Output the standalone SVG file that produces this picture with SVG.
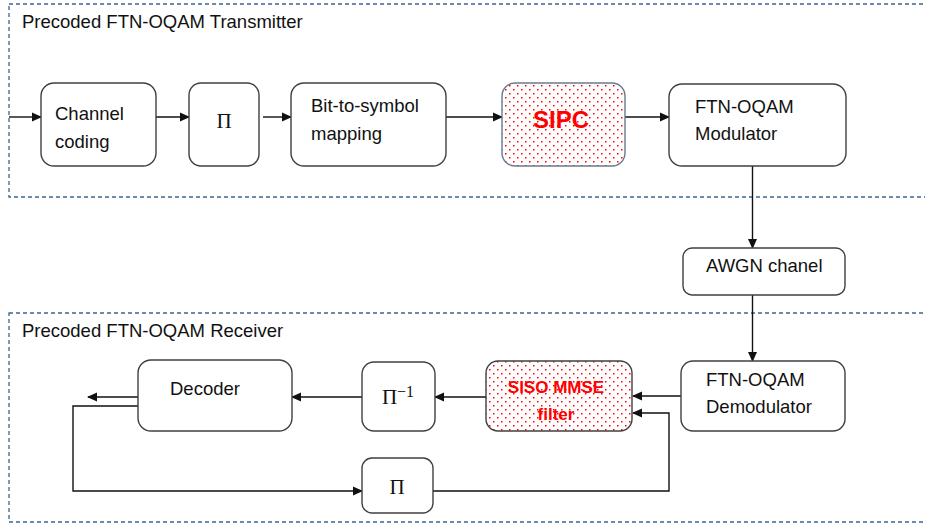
<svg xmlns="http://www.w3.org/2000/svg" width="925" height="525" viewBox="0 0 925 525">
<style>
.frame{fill:none;stroke:#3a6494;stroke-width:1.3;stroke-dasharray:4 3}
.box{fill:#fff;stroke:#404040;stroke-width:1.4}
.hot{fill:url(#dots);stroke:#6b7a8f;stroke-width:1.4}
.hot2{fill:url(#dots);stroke:#404040;stroke-width:1.4}
.lbl{font-family:"Liberation Sans",Arial,sans-serif;font-size:18.5px;fill:#111}
.ttl{font-family:"Liberation Sans",Arial,sans-serif;font-size:18.5px;fill:#111}
.red{font-family:"Liberation Sans",Arial,sans-serif;font-weight:bold;fill:#ff0000}
.pi{font-family:"Liberation Serif","Times New Roman",serif;font-size:21px;fill:#111}
.wire{fill:none;stroke:#111;stroke-width:1.4}
</style>
<defs>
<pattern id="dots" width="8" height="8" patternUnits="userSpaceOnUse">
<rect width="8" height="8" fill="#fff"/>
<rect x="1" y="1" width="1.5" height="1.5" fill="#ff0000"/>
<rect x="5" y="5" width="1.5" height="1.5" fill="#ff0000"/>
</pattern>
<marker id="ah" markerWidth="10" markerHeight="10" refX="9" refY="5" orient="auto" markerUnits="userSpaceOnUse">
<path d="M0,0.5 L10,5 L0,9.5 Z" fill="#111"/>
</marker>
</defs>
<g id="transmitter-frame">
<rect class="frame" x="9" y="4" width="930" height="193"/>
<text class="ttl" x="22" y="28">Precoded FTN-OQAM Transmitter</text>
</g>
<g id="receiver-frame">
<rect class="frame" x="9" y="313" width="930" height="209"/>
<text class="ttl" x="22" y="337">Precoded FTN-OQAM Receiver</text>
</g>
<g id="connectors">
<path class="wire" d="M9,117 H41" marker-end="url(#ah)"/>
<path class="wire" d="M156,117 H189" marker-end="url(#ah)"/>
<path class="wire" d="M263,117 H291" marker-end="url(#ah)"/>
<path class="wire" d="M446,117 H502" marker-end="url(#ah)"/>
<path class="wire" d="M625,117 H669" marker-end="url(#ah)"/>
<path class="wire" d="M752.5,166 V248" marker-end="url(#ah)"/>
<path class="wire" d="M752.5,295 V361" marker-end="url(#ah)"/>
<path class="wire" d="M681,396 H633" marker-end="url(#ah)"/>
<path class="wire" d="M486,397 H435" marker-end="url(#ah)"/>
<path class="wire" d="M362,397 H292" marker-end="url(#ah)"/>
<path class="wire" d="M138,397 H88" marker-end="url(#ah)"/>
<path class="wire" d="M138,406 H73 V491 H362" marker-end="url(#ah)"/>
<path class="wire" d="M433,491 H669 V413 H633" marker-end="url(#ah)"/>
</g>
<g id="channel-coding">
<rect class="box" x="41" y="83" width="115" height="83" rx="13"/>
<text class="lbl" x="55" y="120">Channel</text>
<text class="lbl" x="55" y="148">coding</text>
</g>
<g id="interleaver-tx">
<rect class="box" x="189" y="83" width="70" height="83" rx="12"/>
<text class="pi" x="224" y="128" text-anchor="middle">Π</text>
</g>
<g id="bit-to-symbol">
<rect class="box" x="291" y="83" width="155" height="83" rx="13"/>
<text class="lbl" x="311" y="112">Bit-to-symbol</text>
<text class="lbl" x="311" y="140">mapping</text>
</g>
<g id="sipc">
<rect class="hot" x="502" y="83" width="123" height="83" rx="13"/>
<text class="red" x="561" y="128" font-size="24" text-anchor="middle">SIPC</text>
</g>
<g id="modulator">
<rect class="box" x="669" y="84" width="177" height="82" rx="13"/>
<text class="lbl" x="695" y="113">FTN-OQAM</text>
<text class="lbl" x="695" y="140">Modulator</text>
</g>
<g id="awgn">
<rect class="box" x="683" y="248" width="162" height="47" rx="9"/>
<text class="lbl" x="706" y="272">AWGN chanel</text>
</g>
<g id="demodulator">
<rect class="box" x="681" y="361" width="164" height="70" rx="12"/>
<text class="lbl" x="706" y="386">FTN-OQAM</text>
<text class="lbl" x="706" y="413">Demodulator</text>
</g>
<g id="siso-mmse">
<rect class="hot2" x="486" y="361" width="146" height="70" rx="12"/>
<text class="red" x="556" y="393" font-size="17" text-anchor="middle">SISO MMSE</text>
<text class="red" x="556" y="420" font-size="17" text-anchor="middle">filter</text>
</g>
<g id="deinterleaver">
<rect class="box" x="362" y="362" width="73" height="69" rx="12"/>
<text class="pi" x="398" y="404" text-anchor="middle">Π<tspan font-size="16" dy="-7">−1</tspan></text>
</g>
<g id="decoder">
<rect class="box" x="138" y="360" width="154" height="71" rx="13"/>
<text class="lbl" x="170" y="395">Decoder</text>
</g>
<g id="interleaver-rx">
<rect class="box" x="362" y="458" width="71" height="55" rx="10"/>
<text class="pi" x="397" y="494" text-anchor="middle">Π</text>
</g>
</svg>
